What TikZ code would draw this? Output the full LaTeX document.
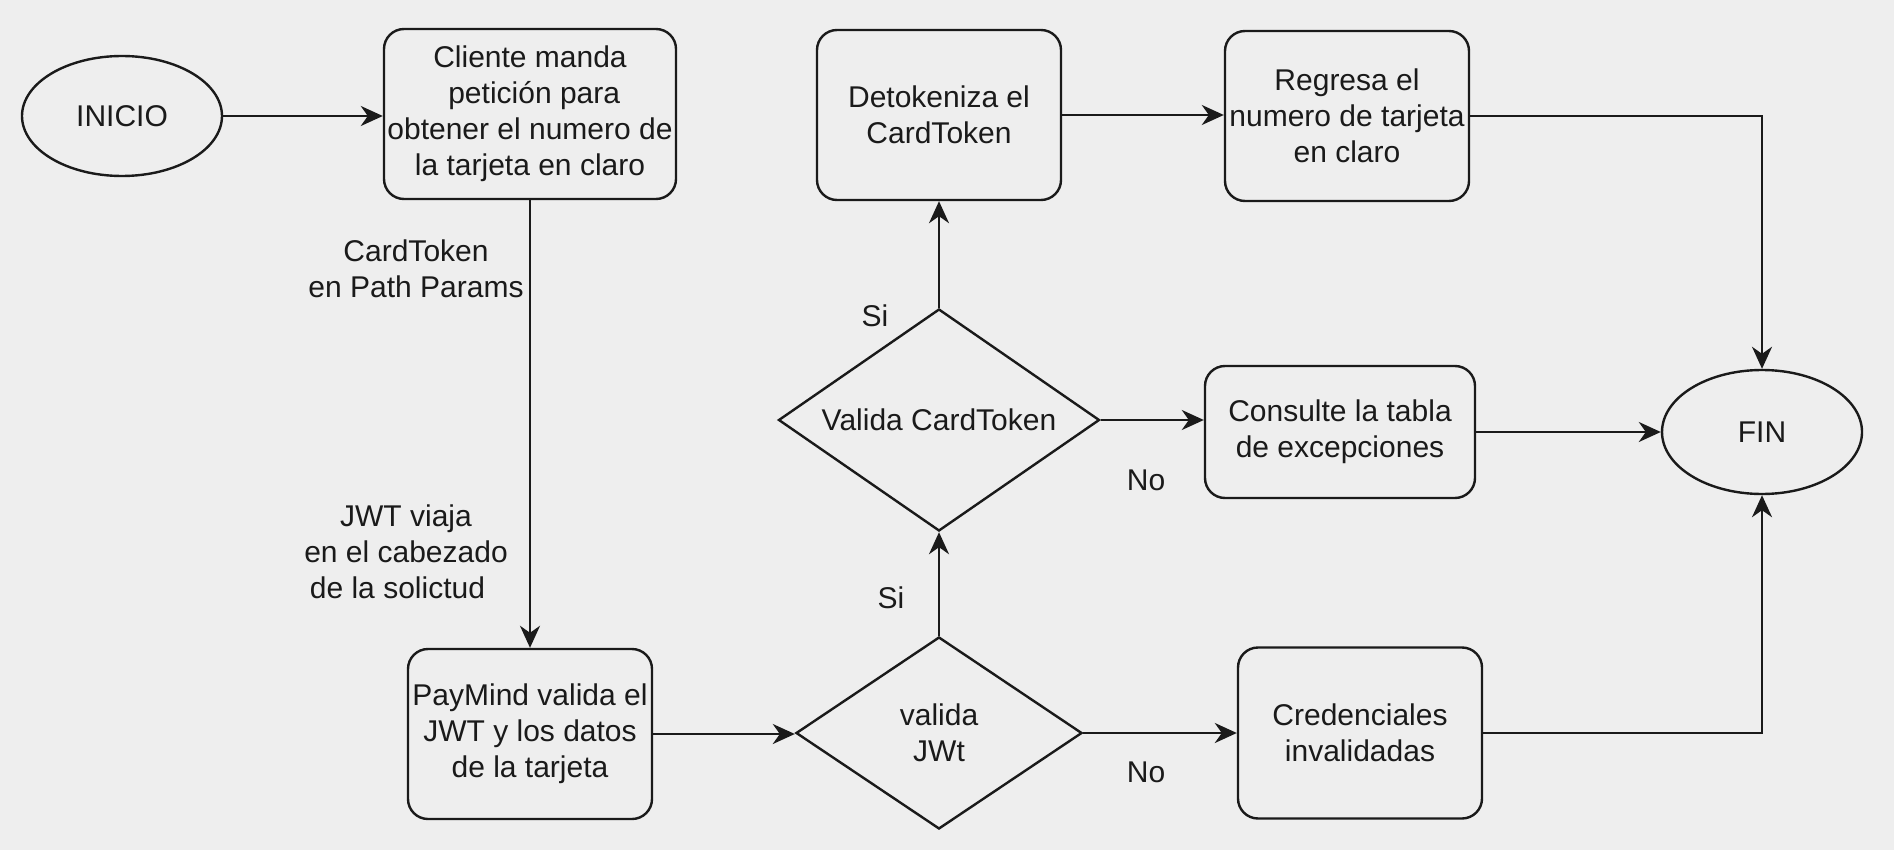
\documentclass[tikz,border=0pt]{standalone}
\usepackage{fontspec}
\setmainfont{Liberation Sans}
\usetikzlibrary{shapes.geometric,arrows.meta}
\definecolor{bg}{HTML}{EEEEEE}
\definecolor{ink}{HTML}{1A1A1A}
\begin{document}
\begin{tikzpicture}[x=0.5pt,y=-0.5pt,
 every node/.style={font=\fontsize{15}{18}\selectfont, text=ink},
 box/.style={draw=ink, line width=1.2pt, rounded corners=10pt, align=center, inner sep=0pt},
 oval/.style={draw=ink, line width=1.2pt, ellipse, inner sep=0pt},
 decision/.style={draw=ink, line width=1.2pt, diamond, inner sep=0pt, align=center},
 flow/.style={draw=ink, line width=1.2pt, -{Stealth[length=11pt,width=10pt,inset=3.5pt]}},
 lbl/.style={align=center, inner sep=0pt}]
\fill[bg] (0,0) rectangle (1894,850);
\useasboundingbox (0,0) rectangle (1894,850);

\node[oval, minimum width=100pt, minimum height=60pt] (inicio) at (122,116) {INICIO};
\node[box, minimum width=146pt, minimum height=85pt] (cliente) at (530,114)
  {Cliente manda\\\hspace*{0.28em}petición para\\obtener el numero de\\la tarjeta en claro};
\node[box, minimum width=122pt, minimum height=85pt] (paymind) at (530,734)
  {PayMind valida el\\JWT y los datos\\de la tarjeta};
\node[decision, aspect=1.49, minimum width=143pt, minimum height=96pt] (jwt) at (939,733) {valida\\JWt};
\node[decision, aspect=1.446, minimum width=160.5pt, minimum height=111pt] (ct) at (939,420) {Valida CardToken};
\node[box, minimum width=122pt, minimum height=85pt] (detok) at (939,115)
  {Detokeniza el\\CardToken};
\node[box, minimum width=122pt, minimum height=85pt] (regresa) at (1347,116)
  {Regresa el\\numero de tarjeta\\en claro};
\node[box, minimum width=135pt, minimum height=66pt] (consulte) at (1340,432)
  {Consulte la tabla\\de excepciones};
\node[box, minimum width=122pt, minimum height=85.5pt] (cred) at (1360,733)
  {Credenciales\\invalidadas};
\node[oval, minimum width=100pt, minimum height=62pt] (fin) at (1762,432) {FIN};

\node[lbl] (lcard) at (416,269) {CardToken\\en Path Params};
\node[lbl] (ljwt) at (406,552) {JWT viaja\\en el cabezado\\de la solictud\hspace*{0.57em}};
\node[lbl] (lsi1) at (875,316) {Si};
\node[lbl] (lno1) at (1146,480) {No};
\node[lbl] (lsi2) at (891,598) {Si};
\node[lbl] (lno2) at (1146,772) {No};

\draw[flow] (inicio.east) -- (inicio.east -| cliente.west);
\draw[flow] (cliente.south) -- (paymind.north);
\draw[flow] (paymind.east) -- (paymind.east -| jwt.west);
\draw[flow] (jwt.north) -- (ct.south);
\draw[flow] (ct.north) -- (detok.south);
\draw[flow] (ct.east) -- (ct.east -| consulte.west);
\draw[flow] (jwt.east) -- (jwt.east -| cred.west);
\draw[flow] (detok.east) -- (detok.east -| regresa.west);
\draw[flow] (regresa.east) -| (fin.north);
\draw[flow] (consulte.east) -- (fin.west);
\draw[flow] (cred.east) -| (fin.south);
\end{tikzpicture}
\end{document}
